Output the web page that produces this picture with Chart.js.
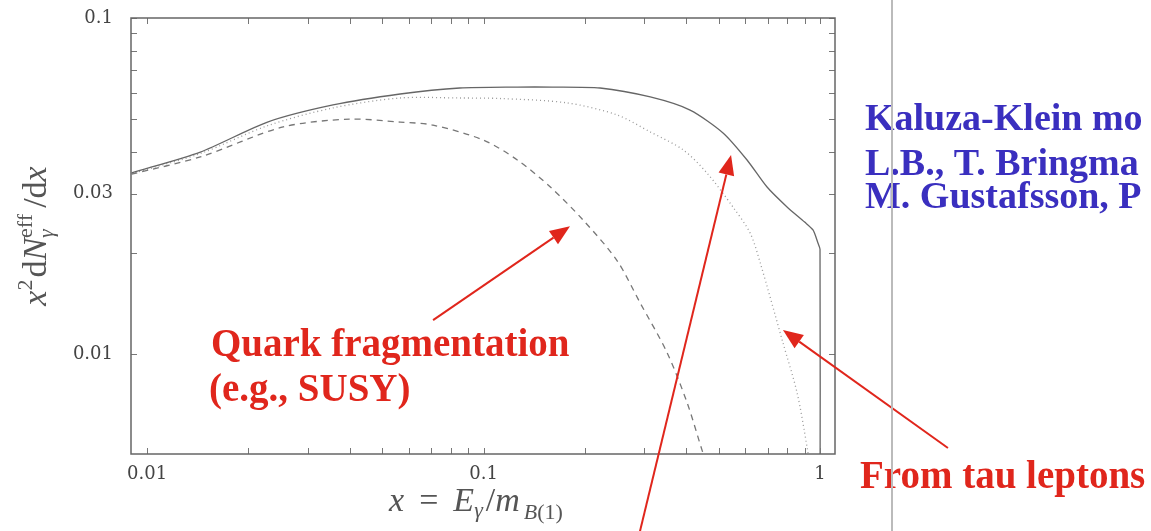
<!DOCTYPE html>
<html>
<head>
<meta charset="utf-8">
<script src="https://cdn.jsdelivr.net/npm/chart.js@4.4.1/dist/chart.umd.min.js"></script>
<style>
  html, body { margin: 0; padding: 0; background: #fff; overflow: hidden; }
</style>
</head>
<body>
<canvas id="chart" width="1151" height="531"></canvas>
<script>
// total spectrum (solid)
const totalX = [0.009, 0.0144, 0.0228, 0.0357, 0.0565, 0.085, 0.126, 0.16, 0.222, 0.313, 0.411, 0.515, 0.607, 0.696, 0.798, 0.9, 0.953, 0.986, 1.0, 1.0];
const totalY = [0.0346, 0.0399, 0.049, 0.0551, 0.0594, 0.0619, 0.0623, 0.0623, 0.0619, 0.0582, 0.0532, 0.0455, 0.0378, 0.0314, 0.0274, 0.0247, 0.0234, 0.0214, 0.0205, 0.003];
// quark fragmentation (dashed)
const quarkX = [0.009, 0.0144, 0.0254, 0.0401, 0.0565, 0.0708, 0.1, 0.126, 0.158, 0.198, 0.249, 0.292, 0.351, 0.403, 0.449, 0.48];
const quarkY = [0.0343, 0.0386, 0.0474, 0.05, 0.049, 0.048, 0.0433, 0.0378, 0.0314, 0.025, 0.019, 0.0142, 0.0101, 0.00715, 0.00507, 0.0042];
// tau leptons (dotted)
const tauX = [0.009, 0.0144, 0.0228, 0.0357, 0.0565, 0.085, 0.112, 0.177, 0.249, 0.313, 0.392, 0.461, 0.551, 0.62, 0.664, 0.776, 0.855, 0.915, 0.94];
const tauY = [0.0344, 0.0395, 0.0478, 0.054, 0.0578, 0.0578, 0.0576, 0.0559, 0.0515, 0.0458, 0.0405, 0.0346, 0.0274, 0.0229, 0.0187, 0.0108, 0.00766, 0.00529, 0.0044];

const xTicks = [0.01, 0.1, 1];
const xTickText = ['0.01', '0.1', '1'];
const yTicks = [0.01, 0.03, 0.1];
const yTickText = ['0.01', '0.03', '0.1'];
const xMinor = [0.01, 0.02, 0.03, 0.04, 0.05, 0.06, 0.07, 0.08, 0.09, 0.1, 0.2, 0.3, 0.4, 0.5, 0.6, 0.7, 0.8, 0.9, 1];
const yMinor = [0.01, 0.02, 0.03, 0.04, 0.05, 0.06, 0.07, 0.08, 0.09, 0.1];

// arrows, in data coordinates
const arrows = [
    { from: [0.0708, 0.01262], to: [0.1807, 0.0240] },
    { from: [0.2917, 0.00297], to: [0.544, 0.0391] },
    { from: [2.40, 0.00525], to: [0.776, 0.01179] }
];

const RED = '#e0261c';
const BLUE = '#3a2fbf';
const SERIF = '"Liberation Serif", "Times New Roman", serif';

function pts(xs, ys) {
    return xs.map((x, i) => ({ x: x, y: ys[i] }));
}

function drawRuns(ctx, runs, cx, baseY) {
    let cursor = 0, lastStart = 0;
    const items = runs.map(r => {
        ctx.font = r.f;
        const w = ctx.measureText(r.t).width;
        const it = Object.assign({}, r);
        if (r.over) {
            it.x = lastStart;
            cursor = Math.max(cursor, lastStart + w);
        } else {
            cursor += r.padL || 0;
            it.x = cursor;
            lastStart = cursor;
            cursor += w + (r.padR || 0);
        }
        return it;
    });
    const x0 = cx - cursor / 2;
    items.forEach(it => {
        ctx.font = it.f;
        ctx.fillText(it.t, x0 + it.x, baseY + (it.dy || 0));
    });
}

function drawArrow(ctx, x0, y0, x1, y1) {
    const ang = Math.atan2(y1 - y0, x1 - x0);
    const len = 20, half = 8;
    const bx = x1 - len * Math.cos(ang), by = y1 - len * Math.sin(ang);
    ctx.beginPath();
    ctx.moveTo(x0, y0);
    ctx.lineTo(bx, by);
    ctx.stroke();
    ctx.beginPath();
    ctx.moveTo(x1, y1);
    ctx.lineTo(bx + half * Math.sin(ang), by - half * Math.cos(ang));
    ctx.lineTo(bx - half * Math.sin(ang), by + half * Math.cos(ang));
    ctx.closePath();
    ctx.fill();
}

const framePlugin = {
    id: 'frame',
    afterDatasetsDraw(chart) {
        const { ctx, chartArea: a, scales: { x, y } } = chart;
        ctx.save();
        ctx.strokeStyle = '#777';
        ctx.lineWidth = 1;
        ctx.beginPath();
        xMinor.forEach(v => {
            const px = Math.round(x.getPixelForValue(v)) + 0.5;
            ctx.moveTo(px, a.bottom); ctx.lineTo(px, a.bottom - 6);
            ctx.moveTo(px, a.top); ctx.lineTo(px, a.top + 6);
        });
        yMinor.forEach(v => {
            const py = Math.round(y.getPixelForValue(v)) + 0.5;
            ctx.moveTo(a.left, py); ctx.lineTo(a.left + 6, py);
            ctx.moveTo(a.right, py); ctx.lineTo(a.right - 6, py);
        });
        ctx.stroke();
        ctx.strokeStyle = '#666';
        ctx.lineWidth = 1.5;
        ctx.strokeRect(a.left, a.top, a.width, a.height);
        ctx.restore();
    },
    afterDraw(chart) {
        const { ctx, scales: { x, y } } = chart;
        ctx.save();

        // axis titles
        ctx.fillStyle = '#555';
        ctx.textBaseline = 'alphabetic';
        const IT = 'italic 34px ' + SERIF, RM = '34px ' + SERIF;
        const ITs = 'italic 22px ' + SERIF, RMs = '22px ' + SERIF;
        drawRuns(ctx, [
            { t: 'x', f: IT },
            { t: '=', f: RM, padL: 15, padR: 15 },
            { t: 'E', f: IT },
            { t: 'γ', f: ITs, dy: 6 },
            { t: '/', f: RM, padL: 3 },
            { t: 'm', f: IT },
            { t: 'B', f: ITs, dy: 8, padL: 4 },
            { t: '(1)', f: RMs, dy: 8 }
        ], 476, 511);

        ctx.save();
        ctx.translate(46, 236);
        ctx.rotate(-Math.PI / 2);
        drawRuns(ctx, [
            { t: 'x', f: IT },
            { t: '2', f: RMs, dy: -14 },
            { t: 'd', f: RM, padL: 2 },
            { t: 'N', f: IT },
            { t: 'γ', f: ITs, dy: 7 },
            { t: 'eff', f: RMs, dy: -14, over: true },
            { t: '/d', f: RM, padL: 6 },
            { t: 'x', f: IT }
        ], 0, 0);
        ctx.restore();

        // arrows
        ctx.strokeStyle = RED;
        ctx.fillStyle = RED;
        ctx.lineWidth = 2;
        arrows.forEach(ar => {
            drawArrow(ctx,
                x.getPixelForValue(ar.from[0]), y.getPixelForValue(ar.from[1]),
                x.getPixelForValue(ar.to[0]), y.getPixelForValue(ar.to[1]));
        });

        // slide text
        ctx.font = 'bold 39px ' + SERIF;
        ctx.fillStyle = RED;
        ctx.fillText('Quark fragmentation', 211, 356);
        ctx.fillText('(e.g., SUSY)', 209, 401);
        ctx.fillText('From tau leptons', 860, 488);

        ctx.fillStyle = BLUE;
        ctx.font = 'bold 38px ' + SERIF;
        ctx.fillText('Kaluza-Klein mo', 865, 130);
        ctx.fillText('L.B., T. Bringma', 865, 175);
        ctx.fillText('M. Gustafsson, P', 865, 208);

        // slide divider
        ctx.strokeStyle = '#bbb';
        ctx.lineWidth = 2;
        ctx.beginPath();
        ctx.moveTo(892, 0);
        ctx.lineTo(892, 531);
        ctx.stroke();
        ctx.restore();
    }
};

new Chart(document.getElementById('chart'), {
    type: 'line',
    data: {
        datasets: [{
            label: 'total',
            data: pts(totalX, totalY),
            borderColor: '#666',
            borderWidth: 1.3,
            pointRadius: 0,
            tension: 0.25
        }, {
            label: 'quark fragmentation',
            data: pts(quarkX, quarkY),
            borderColor: '#777',
            borderWidth: 1.3,
            borderDash: [6, 5],
            pointRadius: 0,
            tension: 0.3
        }, {
            label: 'tau leptons',
            data: pts(tauX, tauY),
            borderColor: '#999',
            borderWidth: 1.3,
            borderDash: [1, 3],
            pointRadius: 0,
            tension: 0.3
        }]
    },
    options: {
        responsive: false,
        animation: false,
        devicePixelRatio: 1,
        layout: { padding: { top: 18, right: 316, left: 0, bottom: 0 } },
        plugins: {
            legend: { display: false },
            tooltip: { enabled: false }
        },
        scales: {
            x: {
                type: 'logarithmic',
                min: 0.00896,
                max: 1.108,
                grid: { display: false, drawTicks: false },
                border: { display: false },
                afterBuildTicks: s => { s.ticks = xTicks.map(v => ({ value: v })); },
                afterFit: s => { s.height = 77; s.paddingLeft = 0; s.paddingRight = 0; },
                ticks: {
                    padding: 10,
                    maxRotation: 0,
                    color: '#444',
                    font: { family: 'DejaVu Serif', size: 18 },
                    callback: v => xTickText[xTicks.indexOf(v)]
                }
            },
            y: {
                type: 'logarithmic',
                min: 0.00504,
                max: 0.1,
                grid: { display: false, drawTicks: false },
                border: { display: false },
                afterBuildTicks: s => { s.ticks = yTicks.map(v => ({ value: v })); },
                afterFit: s => { s.width = 131; s.paddingTop = 0; s.paddingBottom = 0; },
                ticks: {
                    padding: 18,
                    color: '#444',
                    font: { family: 'DejaVu Serif', size: 18 },
                    callback: v => yTickText[yTicks.indexOf(v)]
                }
            }
        }
    },
    plugins: [framePlugin]
});
</script>
</body>
</html>
